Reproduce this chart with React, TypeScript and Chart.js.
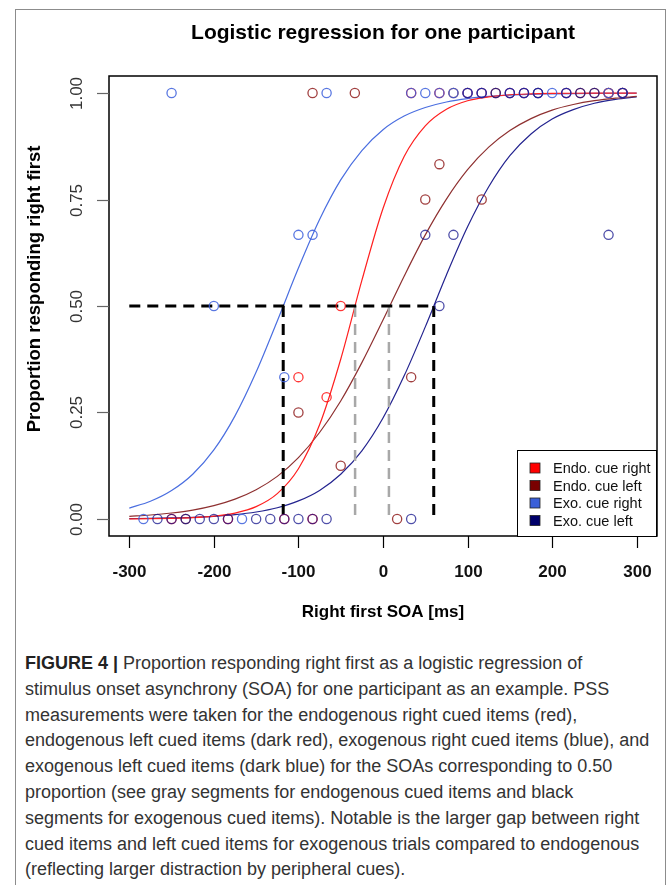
import React, { useEffect, useRef } from "react";
import { Chart, registerables } from "chart.js";

Chart.register(...registerables);

// ---------- data ----------
const SERIES_LABELS = ["Endo. cue right", "Endo. cue left", "Exo. cue right", "Exo. cue left"];

// observed proportions (SOA in ms, proportion responding right first)
const endoRightSoa = [-250, -183.3, -116.7, -100, -83.3, -66.7, -50, 33.3, 66.7, 100, 116.7, 150, 166.7, 216.7, 266.7, 283.3];
const endoRightProp = [0, 0, 0, 0.333, 0, 0.286, 0.5, 1, 1, 1, 1, 1, 1, 1, 1, 1];

const endoLeftSoa = [-233.3, -100, -83.3, -50, -33.3, 16.7, 33.3, 50, 66.7, 83.3, 116.7, 133.3, 183.3, 233.3, 250, 266.7, 283.3];
const endoLeftProp = [0, 0.25, 1, 0.125, 1, 0, 0.333, 0.75, 0.833, 1, 0.75, 1, 1, 1, 1, 1, 1];

const exoRightSoa = [-283.3, -250, -200, -166.7, -116.7, -100, -83.3, -66.7, 33.3, 50, 66.7, 83.3, 100, 116.7, 150, 166.7, 183.3, 200, 216.7, 266.7, 283.3];
const exoRightProp = [0, 1, 0.5, 0, 0.333, 0.667, 0.667, 1, 1, 1, 1, 1, 1, 1, 1, 1, 1, 1, 1, 1, 1];

const exoLeftSoa = [-266.7, -250, -233.3, -216.7, -200, -183.3, -150, -133.3, -116.7, -100, -83.3, -66.7, 33.3, 50, 66.7, 83.3, 100, 116.7, 133.3, 150, 166.7, 183.3, 216.7, 233.3, 250, 266.7, 283.3];
const exoLeftProp = [0, 0, 0, 0, 0, 0, 0, 0, 0, 0, 0, 0, 0, 0.667, 0.5, 0.667, 1, 1, 1, 1, 1, 1, 1, 1, 1, 0.667, 1];

// fitted logistic curves, every 25 ms
const curveSoa = [-300, -275, -250, -225, -200, -175, -150, -125, -100, -75, -50, -25, 0, 25, 50, 75, 100, 125, 150, 175, 200, 225, 250, 275, 300];
const endoRightFit = [0.0003, 0.0007, 0.0015, 0.0031, 0.0066, 0.0139, 0.029, 0.0595, 0.118, 0.221, 0.375, 0.56, 0.729, 0.851, 0.923, 0.962, 0.982, 0.991, 0.996, 0.998, 0.999, 0.9995, 0.9998, 0.9999, 0.9999];
const endoLeftFit = [0.0062, 0.0093, 0.014, 0.0209, 0.0313, 0.0466, 0.0687, 0.1, 0.144, 0.203, 0.277, 0.367, 0.467, 0.57, 0.667, 0.751, 0.82, 0.873, 0.912, 0.94, 0.96, 0.973, 0.982, 0.988, 0.992];
const exoRightFit = [0.0256, 0.0415, 0.0667, 0.105, 0.162, 0.242, 0.345, 0.465, 0.589, 0.703, 0.796, 0.865, 0.914, 0.946, 0.966, 0.979, 0.987, 0.992, 0.995, 0.997, 0.998, 0.9988, 0.9993, 0.9995, 0.9997];
const exoLeftFit = [0.0009, 0.0015, 0.0024, 0.0038, 0.0062, 0.0101, 0.0164, 0.0264, 0.0424, 0.0671, 0.105, 0.16, 0.237, 0.336, 0.451, 0.573, 0.686, 0.78, 0.853, 0.904, 0.939, 0.961, 0.976, 0.985, 0.991];

// points of subjective simultaneity (SOA at proportion 0.50)
const pssEndoRight = -33;
const pssEndoLeft = 7;
const pssExoRight = -118;
const pssExoLeft = 60;
const pssLevel = 0.5;
const segmentStart = -300;

const xTicks = [-300, -200, -100, 0, 100, 200, 300];
const yTicks = [0, 0.25, 0.5, 0.75, 1];
const yTickLabels = ["0.00", "0.25", "0.50", "0.75", "1.00"];

const TITLE = "Logistic regression for one participant";
const X_TITLE = "Right first SOA [ms]";
const Y_TITLE = "Proportion responding right first";

const CAPTION_LINES = [
  "Proportion responding right first as a logistic regression of",
  "stimulus onset asynchrony (SOA) for one participant as an example. PSS",
  "measurements were taken for the endogenous right cued items (red),",
  "endogenous left cued items (dark red), exogenous right cued items (blue), and",
  "exogenous left cued items (dark blue) for the SOAs corresponding to 0.50",
  "proportion (see gray segments for endogenous cued items and black",
  "segments for exogenous cued items). Notable is the larger gap between right",
  "cued items and left cued items for exogenous trials compared to endogenous",
  "(reflecting larger distraction by peripheral cues).",
];
const CAPTION_LEAD = "FIGURE 4 | ";

// ---------- styles ----------
const LINE_COLORS = ["#ff1f1f", "#8e3030", "#4a6ee0", "#23238f"];
const POINT_COLORS = ["rgba(255,20,20,0.85)", "rgba(145,30,30,0.85)", "rgba(60,95,220,0.85)", "rgba(20,20,140,0.75)"];
const LEGEND_COLORS = ["#ff0000", "#7a0000", "#3a5fd8", "#00006a"];

const FONT = '"Liberation Sans", Arial, Helvetica, sans-serif';
const W = 671;
const H = 640;

const toXY = (xs: number[], ys: number[]) => xs.map((x, i) => ({ x, y: ys[i] }));

const rPlot = {
  id: "rPlot",
  afterDraw(chart: any) {
    const { ctx, chartArea: a, scales } = chart;
    const xs = scales.x;
    const ys = scales.y;
    ctx.save();

    // box
    ctx.strokeStyle = "#000";
    ctx.lineWidth = 1.5;
    ctx.strokeRect(a.left, a.top, a.right - a.left, a.bottom - a.top);

    // x ticks
    ctx.lineWidth = 1.2;
    ctx.strokeStyle = "#000";
    ctx.fillStyle = "#111";
    ctx.font = `bold 17px ${FONT}`;
    ctx.textAlign = "center";
    ctx.textBaseline = "middle";
    xTicks.forEach((v) => {
      const px = Math.round(xs.getPixelForValue(v)) + 0.5;
      ctx.beginPath();
      ctx.moveTo(px, a.bottom);
      ctx.lineTo(px, a.bottom + 12);
      ctx.stroke();
      ctx.fillText(String(v), px, a.bottom + 36);
    });

    // y ticks
    ctx.strokeStyle = "#666";
    ctx.fillStyle = "#333";
    ctx.font = `17px ${FONT}`;
    yTicks.forEach((v, i) => {
      const py = Math.round(ys.getPixelForValue(v)) + 0.5;
      ctx.beginPath();
      ctx.moveTo(a.left - 12, py);
      ctx.lineTo(a.left, py);
      ctx.stroke();
      ctx.save();
      ctx.translate(a.left - 32, py);
      ctx.rotate(-Math.PI / 2);
      ctx.fillText(yTickLabels[i], 0, 0);
      ctx.restore();
    });

    // titles
    const cx = (a.left + a.right) / 2;
    ctx.fillStyle = "#000";
    ctx.font = `bold 21px ${FONT}`;
    ctx.fillText(TITLE, cx, 33);
    ctx.font = `bold 17px ${FONT}`;
    ctx.fillText(X_TITLE, cx, a.bottom + 76);
    ctx.save();
    ctx.translate(35, 289);
    ctx.rotate(-Math.PI / 2);
    ctx.font = `bold 18.5px ${FONT}`;
    ctx.fillText(Y_TITLE, 0, 0);
    ctx.restore();

    // legend (bottom right, inside plot)
    const lw = 140;
    const lh = 86;
    const lx = a.right - lw;
    const ly = a.bottom - lh;
    ctx.fillStyle = "#fff";
    ctx.fillRect(lx, ly, lw, lh);
    ctx.strokeStyle = "#000";
    ctx.lineWidth = 1;
    ctx.strokeRect(lx + 0.5, ly + 0.5, lw - 1, lh);
    ctx.font = `14.5px ${FONT}`;
    ctx.textAlign = "left";
    SERIES_LABELS.forEach((lab, i) => {
      const rowY = ly + 18 + i * 17.5;
      ctx.fillStyle = LEGEND_COLORS[i];
      ctx.fillRect(lx + 13, rowY - 5, 10, 10);
      ctx.strokeStyle = "#222";
      ctx.lineWidth = 0.8;
      ctx.strokeRect(lx + 13, rowY - 5, 10, 10);
      ctx.fillStyle = "#111";
      ctx.fillText(lab, lx + 36, rowY + 1);
    });

    ctx.restore();
  },
};

export default function App() {
  const canvasRef = useRef<HTMLCanvasElement | null>(null);

  useEffect(() => {
    if (!canvasRef.current) return;

    const pointSets = [
      toXY(endoRightSoa, endoRightProp),
      toXY(endoLeftSoa, endoLeftProp),
      toXY(exoRightSoa, exoRightProp),
      toXY(exoLeftSoa, exoLeftProp),
    ];
    const fits = [endoRightFit, endoLeftFit, exoRightFit, exoLeftFit];

    const pointDatasets = pointSets.map((d, i) => ({
      label: SERIES_LABELS[i],
      data: d,
      showLine: false,
      pointStyle: "circle",
      pointRadius: 4.6,
      pointBorderWidth: 1.3,
      pointBackgroundColor: "rgba(0,0,0,0)",
      pointBorderColor: POINT_COLORS[i],
      order: 4 - i,
    }));

    const curveDatasets = fits.map((f, i) => ({
      label: SERIES_LABELS[i] + " fit",
      data: toXY(curveSoa, f),
      showLine: true,
      pointRadius: 0,
      borderColor: LINE_COLORS[i],
      borderWidth: 1.2,
      cubicInterpolationMode: "monotone",
      fill: false,
      order: 10 + i,
    }));

    const dash = (pts: { x: number; y: number }[], color: string, width: number) => ({
      label: "pss",
      data: pts,
      showLine: true,
      pointRadius: 0,
      borderColor: color,
      borderWidth: width,
      borderDash: [11, 7],
      borderCapStyle: "butt",
      fill: false,
      order: 6,
    });

    const segDatasets = [
      dash([{ x: segmentStart, y: pssLevel }, { x: pssExoLeft, y: pssLevel }], "#000", 3),
      dash([{ x: pssExoRight, y: pssLevel }, { x: pssExoRight, y: 0 }], "#000", 3),
      dash([{ x: pssExoLeft, y: pssLevel }, { x: pssExoLeft, y: 0 }], "#000", 3),
      dash([{ x: pssEndoRight, y: pssLevel }, { x: pssEndoRight, y: 0 }], "#a8a8a8", 2.5),
      dash([{ x: pssEndoLeft, y: pssLevel }, { x: pssEndoLeft, y: 0 }], "#a8a8a8", 2.5),
    ];

    const chart = new Chart(canvasRef.current, {
      type: "scatter",
      data: { datasets: [...pointDatasets, ...segDatasets, ...curveDatasets] as any },
      options: {
        responsive: false,
        animation: false,
        devicePixelRatio: 1,
        events: [],
        layout: { padding: { left: 109, top: 76, right: W - 657, bottom: H - 536 } },
        plugins: { legend: { display: false }, tooltip: { enabled: false }, title: { display: false } },
        scales: {
          x: { type: "linear", min: -324, max: 324, display: false },
          y: { type: "linear", min: -0.04, max: 1.04, display: false },
        },
      } as any,
      plugins: [rPlot],
    });
    return () => chart.destroy();
  }, []);

  return (
    <div style={{ position: "absolute", left: 0, top: 0, width: W, height: 885, overflow: "hidden", background: "#fff" }}>
      <div
        style={{
          position: "absolute",
          left: 15,
          top: 9,
          width: 651,
          height: 900,
          border: "1px solid #8c8c8c",
          boxSizing: "border-box",
        }}
      />
      <canvas ref={canvasRef} width={W} height={H} style={{ position: "absolute", left: 0, top: 0, width: W, height: H }} />
      <div
        style={{
          position: "absolute",
          left: 25,
          top: 651,
          fontFamily: FONT,
          fontSize: 18,
          lineHeight: "25.8px",
          color: "#333",
          whiteSpace: "nowrap",
        }}
      >
        {CAPTION_LINES.map((line, i) => (
          <div key={i}>
            {i === 0 && <span style={{ fontWeight: "bold", color: "#222" }}>{CAPTION_LEAD}</span>}
            {line}
          </div>
        ))}
      </div>
    </div>
  );
}
